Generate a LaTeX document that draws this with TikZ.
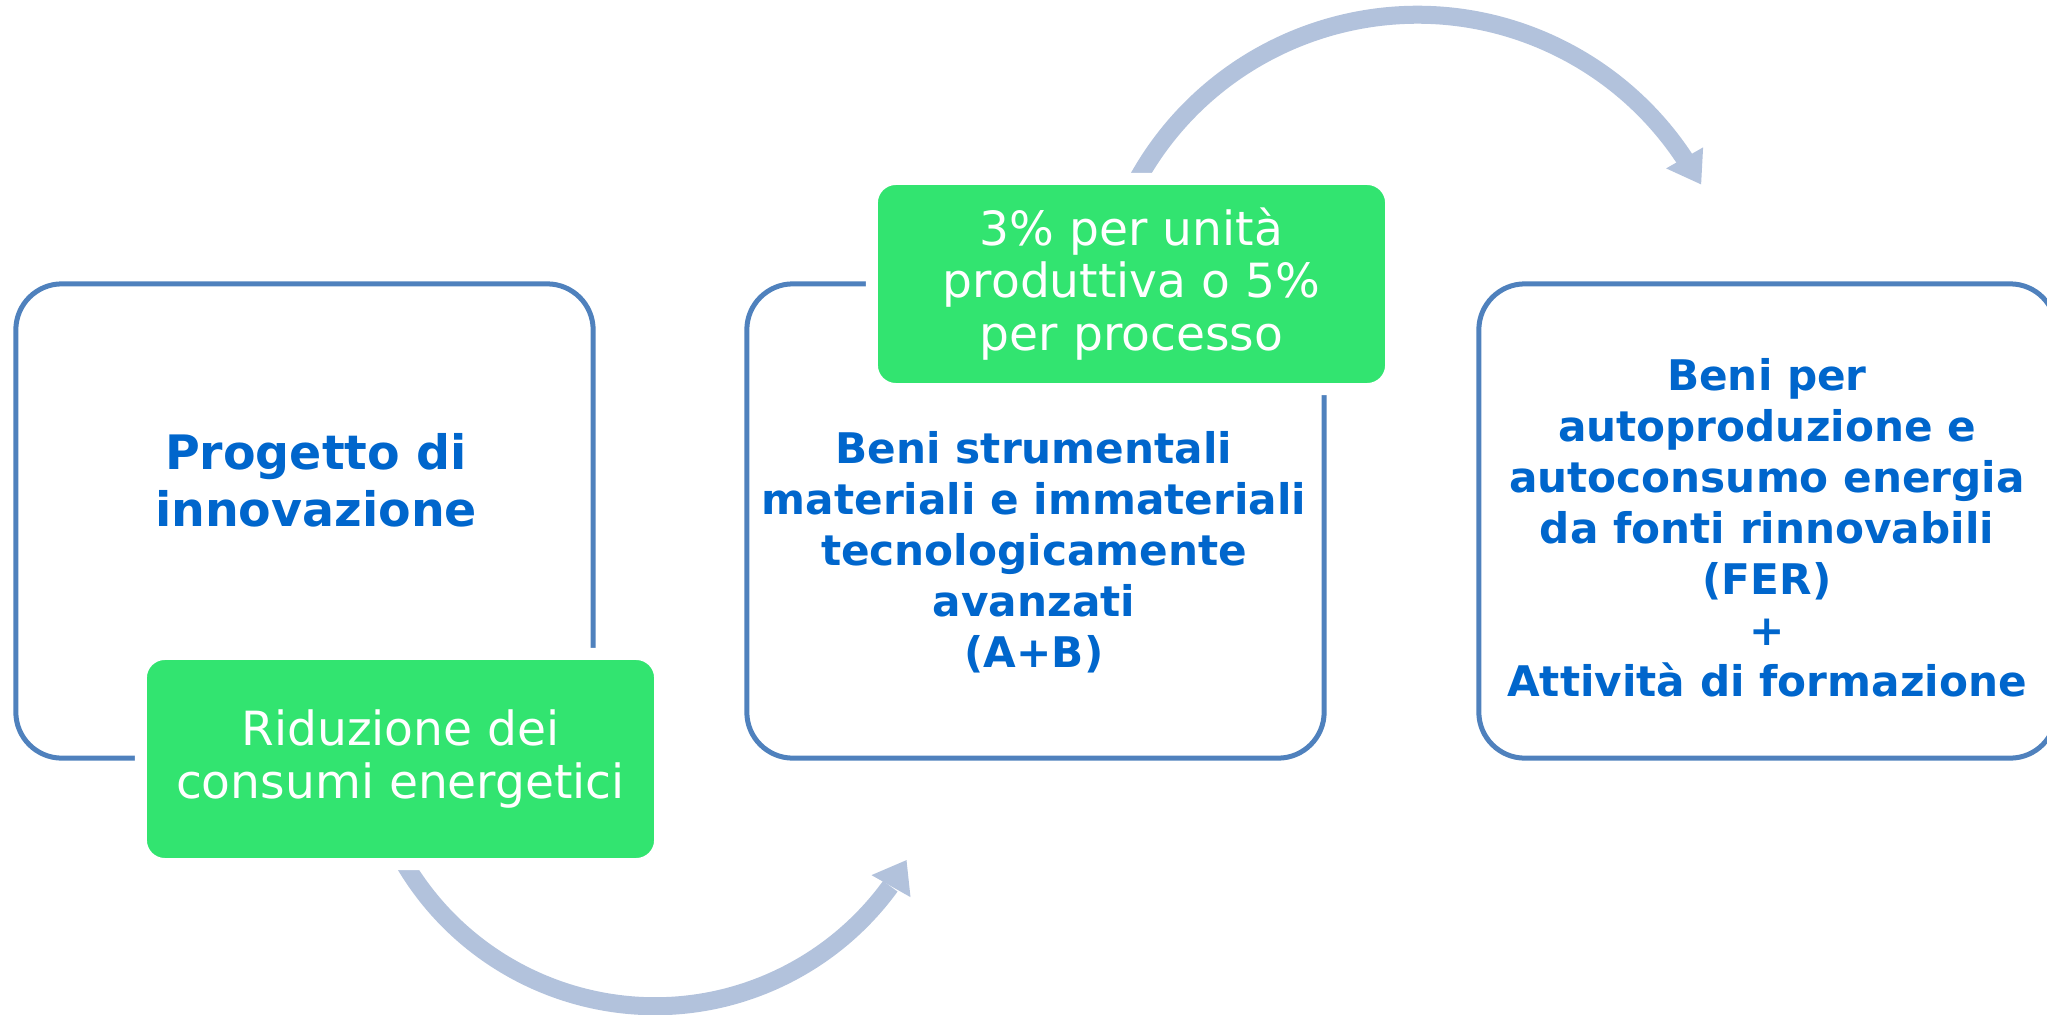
\documentclass[tikz,border=0pt]{standalone}
\usepackage{fontspec}
\setmainfont{DejaVu Sans}
\definecolor{frameblue}{RGB}{79,129,189}
\definecolor{flowgray}{RGB}{178,194,220}
\definecolor{badgegreen}{RGB}{50,228,112}
\definecolor{textblue}{RGB}{0,102,204}

\begin{document}
\begin{tikzpicture}[x=0.01cm,y=-0.01cm,
	frame/.style={draw=frameblue,line width=0.05cm,rounded corners=0.46cm,
		minimum width=5.77cm,minimum height=4.74cm,inner sep=0},
	badge/.style={fill=badgegreen,draw=white,line width=0.12cm,rounded corners=0.24cm,
		minimum width=5.19cm,minimum height=2.10cm,inner sep=0,align=center,
		text=white,font=\fontsize{13.4}{14.9}\selectfont},
	flow/.style={draw=flowgray,line width=0.18cm},
	bluetext/.style={text=textblue,align=center,inner sep=0,
		font=\bfseries\fontsize{12}{14.5}\selectfont}]
				\useasboundingbox (0,0) rectangle (2047,1015);
				% frames
				\node[frame] (innov) at (304.5,521) {};
				\node[frame] (beni) at (1035.5,521) {};
				\node[frame] (fer) at (1767.5,521) {};
				% arrows
				\coordinate (top start) at (1132,190);
				\draw[flow] (top start) arc[start angle=-153.1,end angle=-33.3,radius=320] coordinate (top end);
				\fill[flowgray] ([shift={(-18.7,9.3)}]top end) -- ([shift={(18.3,-11.7)}]top end) -- ([shift={(16.3,25.3)}]top end) -- cycle;
				\coordinate (low start) at (397,850);
				\draw[flow] (low start) arc[start angle=152.4,end angle=36,radius=291] coordinate (low end);
				\fill[flowgray] ([shift={(-18.8,-11.1)}]low end) -- ([shift={(20.2,10.9)}]low end) -- ([shift={(16.2,-26.1)}]low end) -- cycle;
				% green boxes
				\node[badge] (riduzione) at (400.5,759) {Riduzione dei\\consumi energetici};
				\node[badge] (quota) at (1131.5,284) {3\% per unità\\produttiva o 5\%\\per processo};
				% texts
				\node[bluetext,font=\bfseries\fontsize{13.5}{16.2}\selectfont] (innov text) at (316,480.5) {Progetto di\\innovazione};
				\node[bluetext] (beni text) at (1034,552) {Beni strumentali\\materiali e immateriali\\tecnologicamente\\avanzati\\(A+B)};
				\node[bluetext] (fer text) at (1767,528) {Beni per\\autoproduzione e\\autoconsumo energia\\da fonti rinnovabili\\(FER)\\+\\Attività di formazione};
			\end{tikzpicture}
\end{document}
